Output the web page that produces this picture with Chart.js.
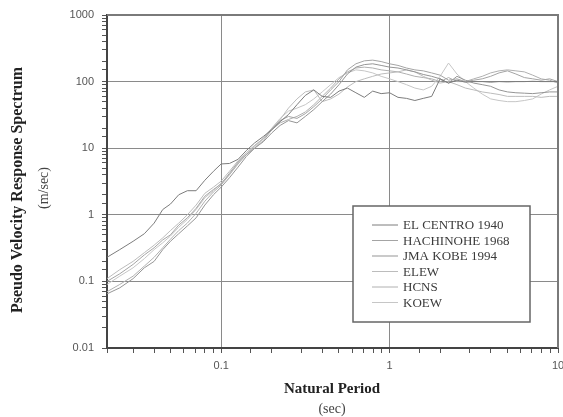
<!DOCTYPE html>
<html lang="en">
<head>
  <meta charset="UTF-8" />
  <title>Pseudo Velocity Response Spectrum</title>
  <script src="https://cdn.jsdelivr.net/npm/chart.js"></script>
  <style>
    html, body {
      margin: 0;
      padding: 0;
      background: #fff;
      overflow: hidden;
    }
    #wrap {
      width: 572px;
      height: 417px;
    }
  </style>
</head>
<body>
<div id="wrap"><canvas id="psv" width="572" height="417"></canvas></div>
<script>
  // natural period grid (sec), shared by every record
  const periods = [0.021, 0.025, 0.03, 0.035, 0.04, 0.045, 0.05, 0.056, 0.063, 0.071,
    0.08, 0.09, 0.1, 0.112, 0.126, 0.141, 0.158, 0.178, 0.2, 0.224,
    0.251, 0.282, 0.316, 0.355, 0.398, 0.447, 0.501, 0.562, 0.631, 0.708,
    0.794, 0.891, 1.0, 1.122, 1.259, 1.413, 1.585, 1.778, 1.995, 2.239,
    2.512, 2.818, 3.162, 3.548, 3.981, 4.467, 5.012, 5.623, 6.31, 7.079,
    7.943, 8.913, 10];

  const seriesNames = ["EL CENTRO 1940", "HACHINOHE 1968", "JMA KOBE 1994", "ELEW", "HCNS", "KOEW"];
  const seriesColors = ["#7c7c7c", "#a4a4a4", "#959595", "#bcbcbc", "#b0b0b0", "#c6c6c6"];

  // pseudo velocity response (m/sec)
  const elCentro = [0.23, 0.3, 0.4, 0.52, 0.75, 1.2, 1.45, 2.0, 2.3, 2.3,
    3.3, 4.5, 5.8, 5.9, 6.8, 9.2, 12, 15, 19, 25,
    32, 45, 62, 75, 60, 58, 72, 80, 68, 58,
    72, 66, 68, 58, 56, 52, 56, 60, 110, 95,
    105, 98, 100, 100, 98, 100, 99, 100, 100, 101,
    100, 100, 100];
  const hachinohe = [0.1, 0.13, 0.18, 0.25, 0.32, 0.42, 0.5, 0.7, 0.9, 1.25,
    1.9, 2.4, 2.9, 4.2, 6.2, 8.0, 10, 13, 19, 26,
    30, 28, 33, 42, 55, 75, 100, 150, 185, 205,
    210, 200, 185, 175, 160, 150, 145, 135, 125, 105,
    110, 100, 105, 110, 120, 135, 145, 130, 115, 110,
    105, 110, 100];
  const jmaKobe = [0.065, 0.08, 0.11, 0.16, 0.2, 0.3, 0.4, 0.52, 0.68, 0.9,
    1.4, 2.0, 2.6, 3.6, 5.2, 7.5, 10, 12.5, 17, 22,
    26, 24, 30, 38, 50, 65, 90, 130, 165, 180,
    185, 175, 165, 160, 150, 140, 128, 120, 110, 95,
    120, 105, 95, 90, 85, 75, 70, 68, 67, 66,
    68, 70, 70];
  const elew = [0.11, 0.15, 0.2, 0.27, 0.35, 0.45, 0.58, 0.75, 1.0, 1.4,
    2.1, 2.6, 3.2, 4.5, 6.5, 8.5, 11, 14, 20, 27,
    40, 55, 70, 75, 50, 55, 65, 83, 100, 110,
    120, 130, 135, 140, 150, 140, 120, 105, 95, 100,
    90, 80, 75, 70, 67, 64, 60, 60, 60, 60,
    58, 60, 60];
  const hcns = [0.07, 0.09, 0.12, 0.17, 0.23, 0.32, 0.43, 0.58, 0.75, 1.05,
    1.6, 2.2, 2.8, 4.0, 5.8, 8.0, 10.5, 14, 19, 24,
    27, 30, 35, 45, 60, 80, 110, 140, 160, 165,
    160, 150, 145, 140, 130, 120, 115, 110, 100, 115,
    100, 100, 110, 120, 135, 145, 150, 145, 140, 125,
    110, 105, 95];
  const koew = [0.09, 0.12, 0.16, 0.22, 0.3, 0.38, 0.48, 0.65, 0.85, 1.2,
    1.8, 2.3, 3.0, 4.0, 6.0, 8.5, 11, 14, 20, 28,
    36, 40, 45, 55, 70, 90, 115, 135, 150, 145,
    135, 120, 110, 100, 90, 80, 75, 85, 120, 190,
    130, 100, 80, 65, 55, 52, 50, 50, 52, 55,
    65, 75, 85];

  const seriesValues = [elCentro, hachinohe, jmaKobe, elew, hcns, koew];

  const isDecade = (v) => {
    const l = Math.log10(v);
    return Math.abs(l - Math.round(l)) < 1e-6;
  };
  const decadeLabel = (v) => {
    if (!isDecade(v)) return "";
    const e = Math.round(Math.log10(v));
    return e < 0 ? Math.pow(10, e).toFixed(-e) : String(Math.round(v));
  };

  // frame on top/right, axis titles and the boxed legend
  const decorations = {
    id: "decorations",
    afterDatasetsDraw(chart) {
      const { ctx, chartArea: a } = chart;
      ctx.save();
      ctx.strokeStyle = "#7a7a7a";
      ctx.lineWidth = 2;
      ctx.beginPath();
      ctx.moveTo(a.left, a.top);
      ctx.lineTo(a.right, a.top);
      ctx.lineTo(a.right, a.bottom);
      ctx.stroke();
      ctx.restore();
    },
    afterDraw(chart) {
      const { ctx, chartArea: a } = chart;
      ctx.save();
      ctx.fillStyle = "#222";
      ctx.textAlign = "center";
      ctx.textBaseline = "middle";

      // y title
      ctx.save();
      ctx.translate(18, 190);
      ctx.rotate(-Math.PI / 2);
      ctx.font = "bold 16px 'Liberation Serif', serif";
      ctx.fillText("Pseudo Velocity Response Spectrum", 0, 0);
      ctx.restore();
      ctx.save();
      ctx.translate(44, 188);
      ctx.rotate(-Math.PI / 2);
      ctx.font = "14px 'Liberation Serif', serif";
      ctx.fillStyle = "#444";
      ctx.fillText("(m/sec)", 0, 0);
      ctx.restore();

      // x title
      ctx.font = "bold 15px 'Liberation Serif', serif";
      ctx.fillText("Natural Period", 332, 389);
      ctx.font = "14px 'Liberation Serif', serif";
      ctx.fillStyle = "#444";
      ctx.fillText("(sec)", 332, 409);

      // legend box
      const bx = a.right - 205, by = a.top + 191, bw = 177, bh = 116;
      ctx.fillStyle = "#fff";
      ctx.fillRect(bx, by, bw, bh);
      ctx.strokeStyle = "#666";
      ctx.lineWidth = 1.5;
      ctx.strokeRect(bx, by, bw, bh);
      ctx.textAlign = "left";
      ctx.font = "13px 'Liberation Serif', serif";
      chart.data.datasets.forEach((ds, i) => {
        const y = by + 19 + i * 15.5;
        ctx.strokeStyle = ds.borderColor;
        ctx.lineWidth = 1;
        ctx.beginPath();
        ctx.moveTo(bx + 19, y);
        ctx.lineTo(bx + 45, y);
        ctx.stroke();
        ctx.fillStyle = "#3a3a3a";
        ctx.fillText(ds.label, bx + 50, y + 1);
      });
      ctx.restore();
    }
  };

  const datasets = seriesNames.map((name, i) => ({
    label: name,
    data: periods.map((t, j) => ({ x: t, y: seriesValues[i][j] })),
    borderColor: seriesColors[i],
    borderWidth: 1,
    pointRadius: 0,
    tension: 0,
    fill: false
  }));

  const axisTicks = {
    color: "#555",
    font: { family: "'Liberation Sans', Arial, sans-serif", size: 11 },
    autoSkip: false,
    maxRotation: 0,
    callback: (v) => decadeLabel(v)
  };

  new Chart(document.getElementById("psv").getContext("2d"), {
    type: "line",
    data: { datasets },
    plugins: [decorations],
    options: {
      responsive: false,
      animation: false,
      layout: { padding: { top: 15, right: 14, left: 0, bottom: 0 } },
      plugins: {
        legend: { display: false },
        tooltip: { enabled: false }
      },
      scales: {
        x: {
          type: "logarithmic",
          min: 0.021,
          max: 10,
          border: { color: "#444", width: 2 },
          grid: {
            color: (c) => (c.tick && isDecade(c.tick.value) ? "#8a8a8a" : "rgba(0,0,0,0)"),
            tickColor: "#555",
            tickLength: 5,
            lineWidth: 1
          },
          ticks: { ...axisTicks, padding: 6 },
          afterFit: (s) => { s.height = 69; }
        },
        y: {
          type: "logarithmic",
          min: 0.01,
          max: 1000,
          border: { color: "#444", width: 2 },
          grid: {
            color: (c) => (c.tick && isDecade(c.tick.value) ? "#8a8a8a" : "rgba(0,0,0,0)"),
            tickColor: "#555",
            tickLength: 5,
            lineWidth: 1
          },
          ticks: { ...axisTicks, padding: 8 },
          afterFit: (s) => { s.width = 107; }
        }
      }
    }
  });
</script>
</body>
</html>
